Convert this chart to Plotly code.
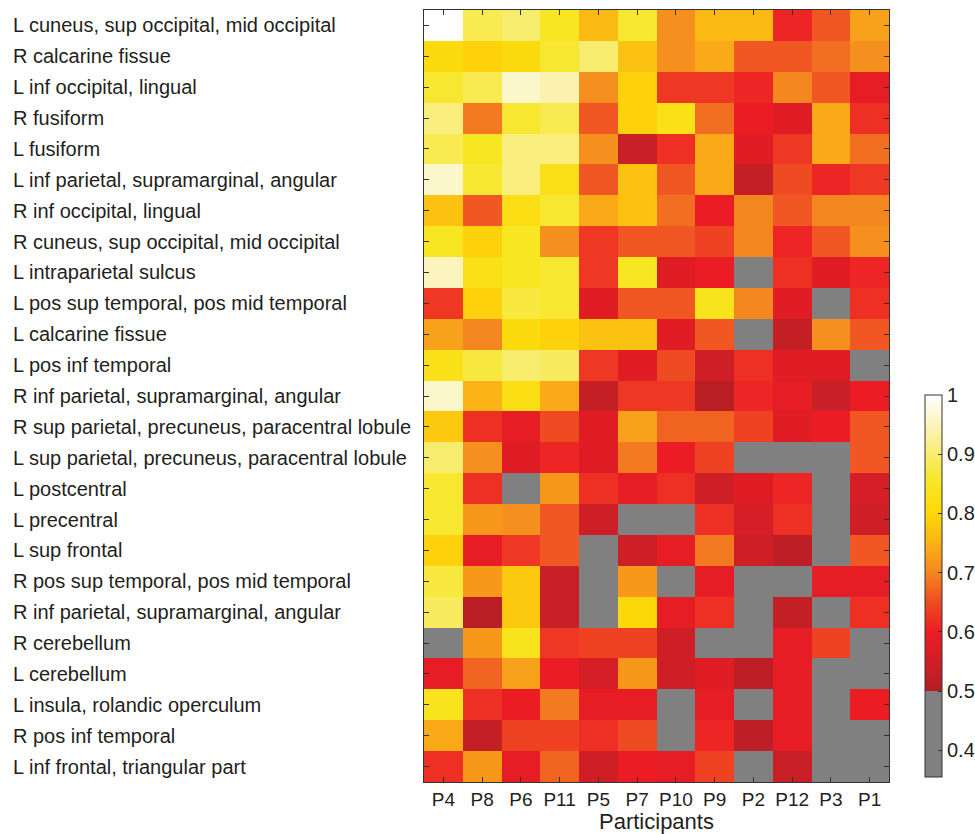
import plotly.graph_objects as go

participants = ["P4", "P8", "P6", "P11", "P5", "P7", "P10", "P9", "P2", "P12", "P3", "P1"]

regions = [
    "L cuneus, sup occipital, mid occipital",
    "R calcarine fissue",
    "L inf occipital, lingual",
    "R fusiform",
    "L fusiform",
    "L inf parietal, supramarginal, angular",
    "R inf occipital, lingual",
    "R cuneus, sup occipital, mid occipital",
    "L intraparietal sulcus",
    "L pos sup temporal, pos mid temporal",
    "L calcarine fissue",
    "L pos inf temporal",
    "R inf parietal, supramarginal, angular",
    "R sup parietal, precuneus, paracentral lobule",
    "L sup parietal, precuneus, paracentral lobule",
    "L postcentral",
    "L precentral",
    "L sup frontal",
    "R pos sup temporal, pos mid temporal",
    "R inf parietal, supramarginal, angular ",
    "R cerebellum",
    "L cerebellum",
    "L insula, rolandic operculum",
    "R pos inf temporal",
    "L inf frontal, triangular part",
]

# classification accuracy per region (rows) and participant (columns);
# values below 0.5 are shown in gray
accuracy = [
    [1.00, 0.88, 0.90, 0.85, 0.76, 0.86, 0.71, 0.76, 0.76, 0.61, 0.66, 0.73],
    [0.81, 0.79, 0.81, 0.86, 0.90, 0.77, 0.71, 0.74, 0.66, 0.66, 0.68, 0.71],
    [0.86, 0.88, 0.96, 0.94, 0.71, 0.79, 0.63, 0.63, 0.61, 0.70, 0.66, 0.59],
    [0.91, 0.69, 0.86, 0.88, 0.66, 0.79, 0.83, 0.68, 0.60, 0.58, 0.74, 0.62],
    [0.88, 0.85, 0.91, 0.91, 0.71, 0.54, 0.62, 0.74, 0.58, 0.63, 0.74, 0.68],
    [0.96, 0.86, 0.91, 0.83, 0.66, 0.77, 0.66, 0.74, 0.53, 0.65, 0.61, 0.63],
    [0.77, 0.66, 0.82, 0.86, 0.74, 0.77, 0.68, 0.60, 0.70, 0.66, 0.70, 0.70],
    [0.85, 0.79, 0.85, 0.71, 0.63, 0.66, 0.66, 0.64, 0.70, 0.61, 0.66, 0.71],
    [0.95, 0.83, 0.85, 0.86, 0.63, 0.85, 0.58, 0.60, 0.45, 0.62, 0.58, 0.61],
    [0.63, 0.79, 0.87, 0.86, 0.58, 0.66, 0.66, 0.84, 0.70, 0.58, 0.45, 0.62],
    [0.73, 0.70, 0.81, 0.79, 0.77, 0.77, 0.58, 0.66, 0.45, 0.53, 0.71, 0.66],
    [0.83, 0.87, 0.90, 0.89, 0.63, 0.58, 0.65, 0.55, 0.62, 0.58, 0.58, 0.45],
    [0.96, 0.75, 0.82, 0.74, 0.53, 0.63, 0.63, 0.51, 0.61, 0.59, 0.54, 0.60],
    [0.78, 0.62, 0.59, 0.65, 0.58, 0.73, 0.67, 0.67, 0.64, 0.58, 0.60, 0.66],
    [0.90, 0.71, 0.58, 0.61, 0.58, 0.69, 0.60, 0.64, 0.45, 0.45, 0.45, 0.66],
    [0.86, 0.62, 0.45, 0.72, 0.62, 0.59, 0.62, 0.55, 0.58, 0.61, 0.45, 0.56],
    [0.86, 0.72, 0.71, 0.66, 0.55, 0.45, 0.45, 0.62, 0.56, 0.62, 0.45, 0.55],
    [0.79, 0.59, 0.63, 0.66, 0.45, 0.55, 0.59, 0.69, 0.55, 0.52, 0.45, 0.66],
    [0.87, 0.72, 0.78, 0.54, 0.45, 0.72, 0.45, 0.59, 0.45, 0.45, 0.59, 0.59],
    [0.89, 0.51, 0.78, 0.54, 0.45, 0.80, 0.59, 0.62, 0.45, 0.53, 0.45, 0.62],
    [0.45, 0.72, 0.84, 0.63, 0.64, 0.64, 0.55, 0.45, 0.45, 0.59, 0.64, 0.45],
    [0.59, 0.67, 0.73, 0.60, 0.56, 0.72, 0.55, 0.58, 0.52, 0.59, 0.45, 0.45],
    [0.84, 0.62, 0.60, 0.69, 0.59, 0.59, 0.45, 0.59, 0.45, 0.59, 0.45, 0.60],
    [0.74, 0.53, 0.64, 0.64, 0.62, 0.65, 0.45, 0.61, 0.52, 0.59, 0.45, 0.45],
    [0.62, 0.72, 0.59, 0.67, 0.55, 0.60, 0.59, 0.64, 0.45, 0.54, 0.45, 0.45],
]

zmin, zmax = 0.355, 1.0
threshold = 0.5
gray = "#808080"
color_stops = [
    (0.50, "#B21E24"), (0.55, "#CF1F26"), (0.60, "#EC1C24"), (0.65, "#EF4B23"),
    (0.70, "#F4861F"), (0.75, "#FBB316"), (0.80, "#FDD809"), (0.85, "#F8E622"),
    (0.90, "#F8EC6E"), (0.95, "#FBF4BE"), (1.00, "#FFFFFF"),
]


def frac(v):
    return (v - zmin) / (zmax - zmin)


colorscale = [[0.0, gray], [frac(threshold) - 1e-4, gray]]
colorscale += [[frac(v), c] for v, c in color_stops]

font_family = "Liberation Sans, Arial, Helvetica, sans-serif"
text_color = "#231F20"

fig = go.Figure(
    go.Heatmap(
        z=accuracy,
        x=participants,
        y=regions,
        zmin=zmin,
        zmax=zmax,
        colorscale=colorscale,
        showscale=True,
        colorbar=dict(
            x=1.077,
            xanchor="left",
            xref="paper",
            y=0.0065,
            yanchor="bottom",
            len=382,
            lenmode="pixels",
            thickness=17,
            outlinecolor="#333333",
            outlinewidth=1,
            ticks="inside",
            ticklen=4,
            tickcolor="#333333",
            tickvals=[0.4, 0.5, 0.6, 0.7, 0.8, 0.9, 1.0],
            ticktext=["0.4", "0.5", "0.6", "0.7", "0.8", "0.9", "1"],
            tickfont=dict(size=20, color=text_color, family=font_family),
            xpad=0,
            ypad=0,
        ),
    )
)

# left-aligned region labels
for r in regions:
    fig.add_annotation(
        x=-0.888, xref="paper", xanchor="left",
        y=r, yref="y", yanchor="middle",
        text=r.strip(), showarrow=False,
        font=dict(size=20, color=text_color, family=font_family),
    )

fig.update_xaxes(
    ticks="inside", ticklen=5, tickcolor="#333333",
    showline=True, linecolor="#333333", linewidth=1, mirror="ticks",
    tickfont=dict(size=19, color=text_color, family=font_family),
    title=dict(text="Participants", standoff=7,
               font=dict(size=22, color=text_color, family=font_family)),
)
fig.update_yaxes(
    autorange="reversed",
    ticks="inside", ticklen=5, tickcolor="#333333",
    showline=True, linecolor="#333333", linewidth=1, mirror="ticks",
    showticklabels=False,
)

fig.update_layout(
    width=975, height=834,
    margin=dict(l=424, r=86, t=10, b=52, autoexpand=False),
    paper_bgcolor="white", plot_bgcolor="white",
)

fig.write_html("out.html")
